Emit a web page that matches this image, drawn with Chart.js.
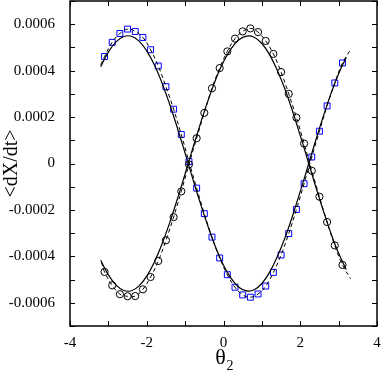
<!DOCTYPE html>
<html>
<head>
<meta charset="utf-8">
<script src="https://cdn.jsdelivr.net/npm/chart.js@4"></script>
<style>
  html, body { margin: 0; padding: 0; background: #fff; }
  #wrap { width: 382px; height: 382px; }
</style>
</head>
<body>
<div id="wrap"><canvas id="chart"></canvas></div>
<script>
// theta_2 positions of the simulated points
const thetaPts = [-3.1, -2.9, -2.7, -2.5, -2.3, -2.1, -1.9, -1.7, -1.5, -1.3, -1.1, -0.9,
  -0.7, -0.5, -0.3, -0.1, 0.1, 0.3, 0.5, 0.7, 0.9, 1.1, 1.3, 1.5, 1.7, 1.9, 2.1, 2.3,
  2.5, 2.7, 2.9, 3.1];

// black circles
const circleVals = [-0.000467, -0.000525, -0.000563, -0.000572, -0.000571, -0.000542,
  -0.000489, -0.000420, -0.000331, -0.000231, -0.000120, -0.000004, 0.000109, 0.000218,
  0.000324, 0.000411, 0.000483, 0.000538, 0.000569, 0.000582, 0.000566, 0.000528,
  0.000472, 0.000394, 0.000300, 0.000198, 0.000086, -0.000031, -0.000143, -0.000252,
  -0.000353, -0.000437];

// blue squares
const squareVals = [0.000461, 0.000522, 0.000560, 0.000579, 0.000569, 0.000543,
  0.000490, 0.000420, 0.000331, 0.000234, 0.000125, 0.000008, -0.000106, -0.000216,
  -0.000317, -0.000407, -0.000479, -0.000533, -0.000566, -0.000576, -0.000562, -0.000528,
  -0.000469, -0.000394, -0.000302, -0.000198, -0.000087, 0.000028, 0.000139, 0.000248,
  0.000347, 0.000433];

// solid curves (fit)
const fitTheta = [-3.2, -3.0, -2.8, -2.6, -2.4, -2.2, -2.0, -1.8, -1.6, -1.4, -1.2, -1.0,
  -0.8, -0.6, -0.4, -0.2, 0.0, 0.2, 0.4, 0.6, 0.8, 1.0, 1.2, 1.4, 1.6, 1.8, 2.0, 2.2,
  2.4, 2.6, 2.8, 3.0, 3.2];
const fitSquare = [0.000417, 0.000480, 0.000524, 0.000547, 0.000548, 0.000527, 0.000485,
  0.000424, 0.000346, 0.000254, 0.000152, 0.000044, -0.000066, -0.000173, -0.000273,
  -0.000363, -0.000438, -0.000495, -0.000533, -0.000549, -0.000544, -0.000517, -0.000469,
  -0.000402, -0.000321, -0.000225, -0.000120, -0.000012, 0.000098, 0.000203, 0.000301,
  0.000387, 0.000457];
const fitCircle = [-0.000417, -0.000480, -0.000524, -0.000547, -0.000548, -0.000527, -0.000485,
  -0.000424, -0.000346, -0.000254, -0.000152, -0.000044, 0.000066, 0.000173, 0.000273,
  0.000363, 0.000438, 0.000495, 0.000533, 0.000549, 0.000544, 0.000517, 0.000469,
  0.000402, 0.000321, 0.000225, 0.000120, 0.000012, -0.000098, -0.000203, -0.000301,
  -0.000387, -0.000457];

// dashed curves run a bit past the points at both ends
const dashSquareEnds = [[-3.2, 0.000426], [3.32, 0.000493]];
const dashCircleEnds = [[-3.18, -0.000425], [3.31, -0.000496]];

function pairs(xs, ys) {
  return xs.map((x, i) => ({ x: x, y: ys[i] }));
}
function withEnds(xs, ys, ends) {
  return [{ x: ends[0][0], y: ends[0][1] }].concat(pairs(xs, ys), [{ x: ends[1][0], y: ends[1][1] }]);
}

const serif = 'Liberation Serif';

// ticks pointing inward on all four sides, plus the frame
const frameTicks = {
  id: 'frameTicks',
  afterDraw(chart) {
    const ctx = chart.ctx;
    const a = chart.chartArea;
    const sx = chart.scales.x, sy = chart.scales.y;
    ctx.save();
    ctx.strokeStyle = '#000';
    ctx.lineWidth = 1;
    ctx.beginPath();
    sx.ticks.forEach(t => {
      const p = Math.round(sx.getPixelForValue(t.value)) + 0.5;
      ctx.moveTo(p, a.bottom); ctx.lineTo(p, a.bottom - 5);
      ctx.moveTo(p, a.top); ctx.lineTo(p, a.top + 5);
    });
    sy.ticks.forEach(t => {
      const p = Math.round(sy.getPixelForValue(t.value)) + 0.5;
      ctx.moveTo(a.left, p); ctx.lineTo(a.left + 5, p);
      ctx.moveTo(a.right, p); ctx.lineTo(a.right - 5, p);
    });
    ctx.stroke();
    ctx.lineWidth = 1.5;
    ctx.strokeRect(a.left, a.top, a.right - a.left, a.bottom - a.top);

    // x axis title with subscript
    const cx = (a.left + a.right) / 2;
    ctx.fillStyle = '#000';
    ctx.textBaseline = 'alphabetic';
    ctx.textAlign = 'center';
    ctx.font = '22px "' + serif + '"';
    ctx.fillText('θ', cx - 3, 364);
    ctx.font = '14px "' + serif + '"';
    ctx.textAlign = 'left';
    ctx.fillText('2', cx + 3, 370);
    ctx.restore();
  }
};

const ctx = document.getElementById('chart').getContext('2d');
const chart = new Chart(ctx, {
  type: 'scatter',
  data: {
    datasets: [
      {
        label: 'fit squares',
        data: pairs(fitTheta, fitSquare),
        showLine: true, borderColor: '#000', borderWidth: 1.2, pointRadius: 0, tension: 0.4
      },
      {
        label: 'fit circles',
        data: pairs(fitTheta, fitCircle),
        showLine: true, borderColor: '#000', borderWidth: 1.2, pointRadius: 0, tension: 0.4
      },
      {
        label: 'dash squares',
        data: withEnds(thetaPts, squareVals, dashSquareEnds),
        showLine: true, borderColor: '#000', borderWidth: 1, borderDash: [4, 3], pointRadius: 0, tension: 0.4
      },
      {
        label: 'dash circles',
        data: withEnds(thetaPts, circleVals, dashCircleEnds),
        showLine: true, borderColor: '#000', borderWidth: 1, borderDash: [4, 3], pointRadius: 0, tension: 0.4
      },
      {
        label: 'circles',
        data: pairs(thetaPts, circleVals),
        pointStyle: 'circle', pointRadius: 3.6, borderColor: '#000', borderWidth: 1,
        backgroundColor: 'rgba(0,0,0,0)'
      },
      {
        label: 'squares',
        data: pairs(thetaPts, squareVals),
        pointStyle: 'rect', pointRadius: 4.2, borderColor: '#0000ff', borderWidth: 1,
        backgroundColor: 'rgba(0,0,0,0)'
      }
    ]
  },
  options: {
    responsive: true,
    maintainAspectRatio: false,
    animation: false,
    layout: { autoPadding: false, padding: { top: 1, right: 5, left: 0, bottom: 0 } },
    plugins: {
      legend: { display: false },
      tooltip: { enabled: false }
    },
    scales: {
      x: {
        type: 'linear',
        min: -4, max: 4,
        grid: { display: false },
        border: { display: false },
        afterFit: s => { s.height = 56; s.paddingLeft = 0; s.paddingRight = 0; },
        ticks: {
          stepSize: 1,
          autoSkip: false,
          maxRotation: 0,
          padding: 0,
          color: '#000',
          font: { family: serif, size: 15 },
          callback: v => (v % 2 === 0 ? String(v) : '')
        }
      },
      y: {
        type: 'linear',
        min: -0.0007, max: 0.0007,
        grid: { display: false },
        border: { display: false },
        afterFit: s => { s.width = 70; s.paddingTop = 0; s.paddingBottom = 0; },
        title: {
          display: true,
          text: '<dX/dt>',
          color: '#000',
          font: { family: serif, size: 20 },
          padding: 0
        },
        ticks: {
          stepSize: 0.0001,
          autoSkip: false,
          padding: 7,
          color: '#000',
          font: { family: serif, size: 15 },
          callback: v => {
            const k = Math.round(v * 10000);
            if (k % 2 !== 0) return '';
            if (k === 0) return '0';
            return (k / 10000).toFixed(4);
          }
        }
      }
    }
  },
  plugins: [frameTicks]
});
</script>
</body>
</html>
